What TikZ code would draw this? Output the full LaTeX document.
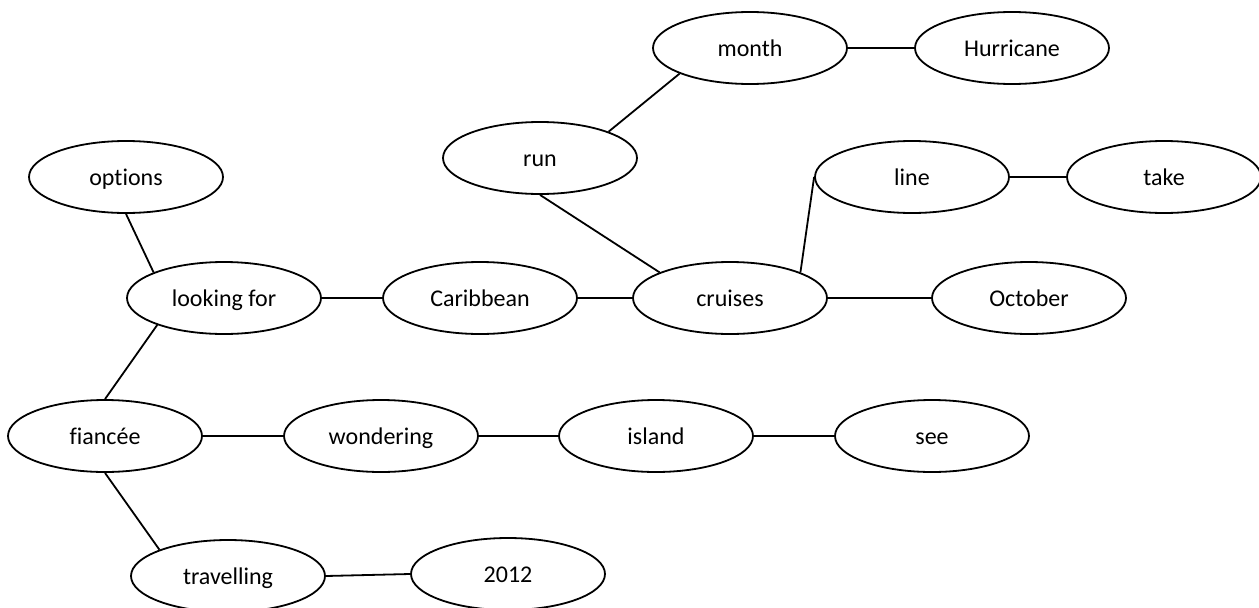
\documentclass[tikz,border=0pt]{standalone}
\usepackage{fontspec}
\setmainfont{Carlito}[Ligatures=NoCommon]
\usetikzlibrary{shapes.geometric}
\begin{document}
\begin{tikzpicture}[x=1pt,y=-1pt,
  word/.style={ellipse,draw,line width=1.8pt,minimum width=194pt,minimum height=72pt,
    inner sep=0pt,font=\fontsize{24}{28}\selectfont,text height=18pt,text depth=2pt,fill=white},
  link/.style={line width=1.8pt}]
\useasboundingbox (0,0) rectangle (1259,608);
% concept nodes
\node[word] (month)      at (750,48)  {month};
\node[word] (hurricane)  at (1012,48) {Hurricane};
\node[word] (run)        at (540,158) {run};
\node[word] (options)    at (126,177) {options};
\node[word] (line)       at (912,177) {line};
\node[word] (take)       at (1164,177) {take};
\node[word] (looking)    at (224,298) {looking for};
\node[word] (caribbean)  at (480,298) {Caribbean};
\node[word] (cruises)    at (730,298) {cruises};
\node[word] (october)    at (1029,298) {October};
\node[word] (fiancee)    at (105,436) {fiancée};
\node[word] (wondering)  at (381,436) {wondering};
\node[word] (island)     at (656,436) {island};
\node[word] (see)        at (932,436) {see};
\node[word] (travelling) at (228,576) {travelling};
\node[word] (year)       at (508,574) {2012};
% connections
\draw[link] (month.east) -- (hurricane.west);
\draw[link] (month.200) -- (run.21);
\draw[link] (run.270) -- (cruises.160);
\draw[link] (cruises.20) -- (line.180);
\draw[link] (line.east) -- (take.west);
\draw[link] (looking.east) -- (caribbean.west);
\draw[link] (caribbean.east) -- (cruises.west);
\draw[link] (cruises.east) -- (october.west);
\draw[link] (options.270) -- (looking.160);
\draw[link] (looking.202) -- (fiancee.90);
\draw[link] (fiancee.east) -- (wondering.west);
\draw[link] (wondering.east) -- (island.west);
\draw[link] (island.east) -- (see.west);
\draw[link] (fiancee.270) -- (travelling.159);
\draw[link] (travelling.east) -- (year.west);
\end{tikzpicture}
\end{document}
